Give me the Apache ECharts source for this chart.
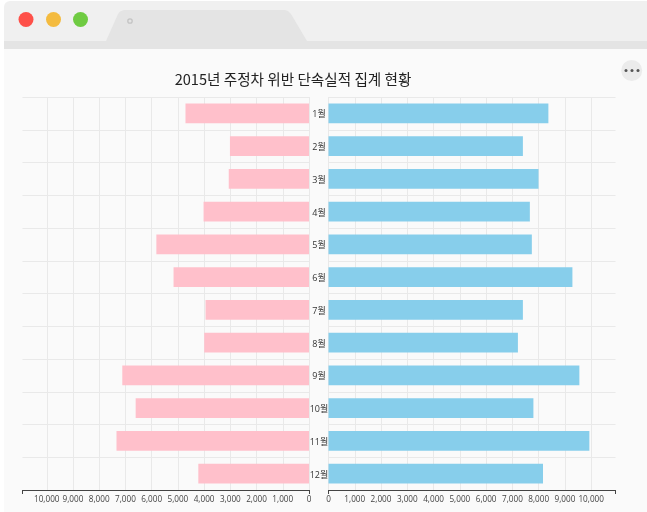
<!DOCTYPE html>
<html>
<head>
<meta charset="utf-8">
<style>html,body{margin:0;padding:0;background:#fff;overflow:hidden}#c{width:647px;height:512px}</style>
<script src="https://cdn.jsdelivr.net/npm/echarts@6/dist/echarts.min.js"></script>
</head>
<body>
<div id="c"></div>
<script>
var titleText = '2015년 주정차 위반 단속실적 집계 현황';
var months = ['1월','2월','3월','4월','5월','6월','7월','8월','9월','10월','11월','12월'];
var leftValues = [4710,3015,3060,4020,5820,5165,3945,3995,7120,6610,7340,4220];
var rightValues = [8370,7400,7995,7665,7740,9285,7400,7210,9550,7800,9930,8165];
var axisMax = 10925;
var axisStep = 1000;

var FONT = '"Open Sans","Noto Sans CJK KR",sans-serif';
var chart = echarts.init(document.getElementById('c'), null, {renderer:'canvas'});

function valueAxis(gridIndex, inverse){
  return {
    type:'value', gridIndex:gridIndex, inverse:inverse, min:0, max:axisMax, interval:axisStep,
    axisLine:{show:true, onZero:false, lineStyle:{color:'#444', width:1}},
    axisTick:{show:false},
    axisLabel:{show:true, fontSize:8.2, color:'#444', fontFamily:FONT, margin:6, showMaxLabel:false, showMinLabel:true,
      formatter:function(v){return v.toLocaleString('en-US');}},
    splitLine:{show:true, showMinLine:true, showMaxLine:false, lineStyle:{color:'#e9e9e9', width:1}}
  };
}
function endTickAxis(gridIndex, inverse){
  return {
    type:'value', gridIndex:gridIndex, inverse:inverse, position:'bottom', min:0, max:axisMax, interval:axisMax,
    axisLine:{show:false, onZero:false},
    axisTick:{show:true, length:4, lineStyle:{color:'#444', width:1}},
    axisLabel:{show:false}, splitLine:{show:false}
  };
}
function catAxis(gridIndex, showLabel){
  return {
    type:'category', gridIndex:gridIndex, inverse:true, data:months, position:gridIndex===0?'right':'left',
    axisLine:{show:false}, axisTick:{show:false},
    axisLabel:{show:showLabel, fontSize:9, color:'#333', fontFamily:FONT, align:'center', verticalAlign:'top', lineHeight:3, margin:9.5, interval:0},
    splitLine:{show:true, interval:0, lineStyle:{color:'#e9e9e9', width:1}}
  };
}
function bar(name, data, idx, color){
  return {type:'bar', name:name, xAxisIndex:idx, yAxisIndex:idx, data:data, barWidth:'61%',
    itemStyle:{color:color}, silent:true, animation:false, z:3};
}

chart.setOption({
  animation:false,
  backgroundColor:'#ffffff',
  title:{text:titleText, left:288, top:67, textAlign:'center',
    textStyle:{fontSize:14.6, fontWeight:'normal', color:'#222', fontFamily:'"Noto Sans CJK KR","Open Sans",sans-serif'}},
  grid:[
    {left:22.5, width:286.5, top:97, height:393, containLabel:false},
    {left:328.5, width:287, top:97, height:393, containLabel:false}
  ],
  xAxis:[valueAxis(0,true), valueAxis(1,false), endTickAxis(0,true), endTickAxis(1,false)],
  yAxis:[catAxis(0,false), catAxis(1,true)],
  series:[bar('left',leftValues,0,'#FFC0CB'), bar('right',rightValues,1,'#87CEEB')],
  graphic:{elements:[
    {type:'rect', silent:true, z:-10, shape:{x:4,y:49,width:643,height:463}, style:{fill:'#fafafa'}},
    {type:'rect', silent:true, z:-10, shape:{x:4,y:1,width:643,height:41,r:[6,0,0,0]}, style:{fill:'#f0f0f0'}},
    {type:'rect', silent:true, z:-10, shape:{x:4,y:41,width:643,height:8}, style:{fill:'#e4e4e4'}},
    {type:'polygon', silent:true, z:-9, shape:{points:[[106,41],[118,14],[120,11.5],[124,10],[285,10],[288,11],[291,14],[307,41]]}, style:{fill:'#e4e4e4'}},
    {type:'circle', silent:true, z:-8, shape:{cx:26,cy:19.5,r:7.5}, style:{fill:'#fe5049'}},
    {type:'circle', silent:true, z:-8, shape:{cx:53.5,cy:19.5,r:7.5}, style:{fill:'#f4bb3f'}},
    {type:'circle', silent:true, z:-8, shape:{cx:80.5,cy:19.5,r:7.5}, style:{fill:'#6fcb42'}},
    {type:'circle', silent:true, z:-8, shape:{cx:130,cy:21,r:2.2}, style:{fill:'none', stroke:'#c4c4c4', lineWidth:1.3}},
    {type:'circle', silent:true, z:-8, shape:{cx:631.7,cy:70.5,r:10.5}, style:{fill:'#ebebeb'}},
    {type:'circle', silent:true, z:-7, shape:{cx:626,cy:70.5,r:1.5}, style:{fill:'#555'}},
    {type:'circle', silent:true, z:-7, shape:{cx:632,cy:70.5,r:1.5}, style:{fill:'#555'}},
    {type:'circle', silent:true, z:-7, shape:{cx:638,cy:70.5,r:1.5}, style:{fill:'#555'}}
  ]}
});
</script>
</body>
</html>
